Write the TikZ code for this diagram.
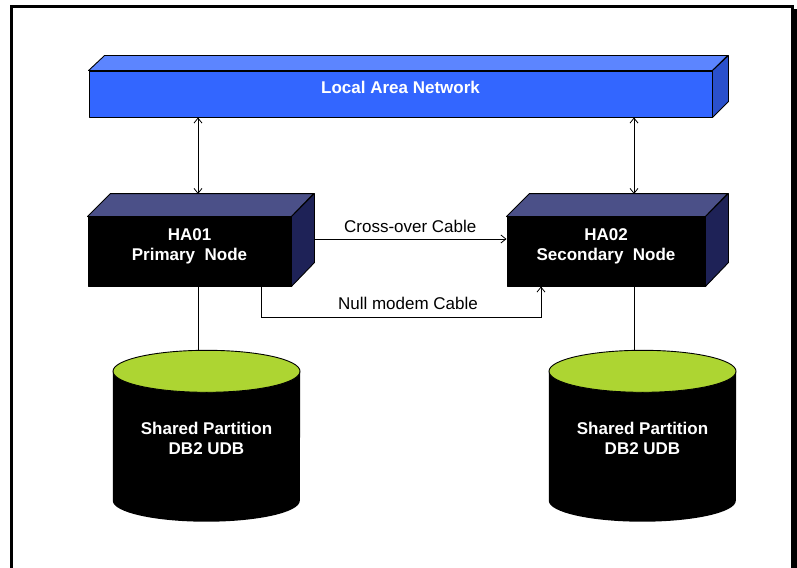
\documentclass[tikz,border=0pt]{standalone}
\usepackage{fontspec}
\setmainfont{Liberation Sans}
\usetikzlibrary{calc,arrows.meta,positioning}

\definecolor{lanfront}{RGB}{51,102,255}
\definecolor{lantop}{RGB}{92,133,255}
\definecolor{lanside}{RGB}{42,80,204}
\definecolor{hatop}{RGB}{75,80,136}
\definecolor{haside}{RGB}{30,34,87}
\definecolor{diskgreen}{RGB}{173,213,50}

\tikzset{
  face/.style={draw=black, line width=0.9pt, line join=round},
  front/.style={face, rectangle, inner sep=0pt},
  plaintext/.style={font=\fontsize{17}{20}\selectfont, align=center},
  boldtext/.style={font=\fontsize{17}{20}\selectfont\bfseries, align=center, text=white},
  wire/.style={line width=0.8pt}
}

\begin{document}
\begin{tikzpicture}[x=1pt,y=-1pt,>={Straight Barb[length=5pt,width=8pt]}]
\useasboundingbox (0,0) rectangle (797,567);
% frame
\fill (791,9) rectangle (797,570);
\draw[line width=3pt] (11.5,600) -- (11.5,6.5) -- (792,6.5) -- (792,600);

% network
\node[front, fill=lanfront, minimum width=623, minimum height=46] (lan) at (400.5,94) {};
\path[face, fill=lantop] (lan.north west) -- ++(16,-15) -- ++(623,0) -- (lan.north east) -- cycle;
\path[face, fill=lanside] (lan.north east) -- ++(16,-15) -- ++(0,46) -- (lan.south east) -- cycle;
\node[boldtext] (lantxt) at ([yshift=7pt]lan.center) {Local Area Network};

% primary node
\node[front, fill=black, minimum width=203, minimum height=69] (ha1) at (189.5,251.5) {};
\path[face, fill=hatop] (ha1.north west) -- ++(23,-23) -- ++(203,0) -- (ha1.north east) -- cycle;
\path[face, fill=haside] (ha1.north east) -- ++(23,-23) -- ++(0,69) -- (ha1.south east) -- cycle;
\node[boldtext] (ha1txt) at ([yshift=5pt]ha1.center) {HA01\\Primary~~Node};

% secondary node
\node[front, fill=black, minimum width=198, minimum height=69] (ha2) at (606,251.5) {};
\path[face, fill=hatop] (ha2.north west) -- ++(23,-23) -- ++(198,0) -- (ha2.north east) -- cycle;
\path[face, fill=haside] (ha2.north east) -- ++(23,-23) -- ++(0,69) -- (ha2.south east) -- cycle;
\node[boldtext] (ha2txt) at ([yshift=5pt]ha2.center) {HA02\\Secondary~~Node};

% disks
\node[inner sep=0pt, minimum width=187, minimum height=171] (db1) at (206.5,436) {};
\node[inner sep=0pt, minimum width=187, minimum height=171] (db2) at (642.5,436) {};
\foreach \d in {db1,db2} {
  \fill ([yshift=-21pt]\d.north west) -- ([yshift=21pt]\d.south west)
    arc[start angle=180, end angle=360, x radius=93.5pt, y radius=21pt]
    -- ([yshift=-21pt]\d.north east) -- cycle;
  \path[face, fill=diskgreen] ([yshift=-21pt]\d.north) ellipse [x radius=93.5pt, y radius=21pt];
}
\node[boldtext] (db1txt) at ([yshift=-2pt]db1.center) {Shared Partition\\DB2 UDB};
\node[boldtext] (db2txt) at ([yshift=-2pt]db2.center) {Shared Partition\\DB2 UDB};

% links
\coordinate (up1) at (198,194);
\coordinate (up2) at (634,194);
\draw[wire,<->] (up1 |- lan.south) -- (up1);
\draw[wire,<->] (up2 |- lan.south) -- (up2);

\coordinate (xo) at (314,239);
\draw[wire,->] (xo) -- (xo -| ha2.west) node[midway, above, yshift=3pt, plaintext] {Cross-over Cable};

\coordinate (nm1) at (261,317);
\coordinate (nm2) at (541,317);
\draw[wire,->] (nm1 |- ha1.south) -- (nm1) -- node[above, xshift=7pt, yshift=4pt, plaintext] {Null modem Cable} (nm2) -- (nm2 |- ha2.south);

\draw[wire] ([xshift=8.5pt]ha1.south) -- ([xshift=-8.5pt]db1.north);
\draw[wire] ([xshift=28pt]ha2.south) -- ([xshift=-8.5pt]db2.north);
\end{tikzpicture}
\end{document}
